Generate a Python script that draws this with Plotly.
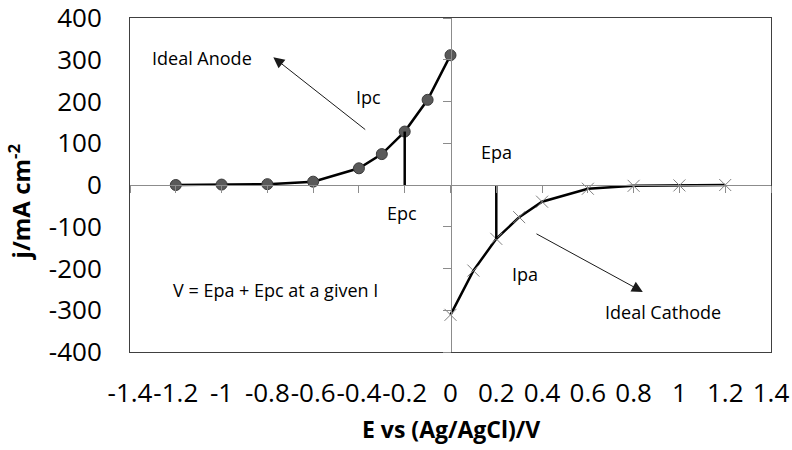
import plotly.graph_objects as go

# Polarisation curves (potential in V vs Ag/AgCl, current density in mA cm^-2)
anode_E = [-1.2, -1.0, -0.8, -0.6, -0.4, -0.3, -0.2, -0.1, 0.0]
anode_j = [0, 1, 2, 8, 40, 74, 128, 204, 311]

cathode_E = [0.0, 0.1, 0.2, 0.3, 0.4, 0.6, 0.8, 1.0, 1.2]
cathode_j = [-311, -205, -129, -77, -40, -9, -2, -1, 0]

# Operating point picked on each curve
epc_idx = 6
epa_idx = 2

x_ticks = [-1.4, -1.2, -1.0, -0.8, -0.6, -0.4, -0.2, 0, 0.2, 0.4, 0.6, 0.8, 1.0, 1.2, 1.4]
x_tick_text = ["-1.4", "-1.2", "-1", "-0.8", "-0.6", "-0.4", "-0.2", "0",
               "0.2", "0.4", "0.6", "0.8", "1", "1.2", "1.4"]
y_ticks = [-400, -300, -200, -100, 0, 100, 200, 300, 400]
y_tick_text = ["-400", "-300", "-200", "-100", "0", "100", "200", "300", "400"]

FONT = "Open Sans"
x_range = [-1.4, 1.4]
y_range = [-400, 400]

fig = go.Figure()

fig.add_trace(go.Scatter(
    x=anode_E, y=anode_j, mode="lines+markers",
    line=dict(color="black", width=2.5),
    marker=dict(symbol="circle", size=11, color="#595959",
                line=dict(color="#3a3a3a", width=1)),
    hoverinfo="skip", showlegend=False,
))
fig.add_trace(go.Scatter(
    x=cathode_E, y=cathode_j, mode="lines+markers",
    line=dict(color="black", width=2.5),
    marker=dict(symbol="x-thin", size=12, color="#808080",
                line=dict(color="#808080", width=1)),
    hoverinfo="skip", showlegend=False,
))

# Drop lines from the chosen points to the current-zero axis
fig.add_trace(go.Scatter(
    x=[anode_E[epc_idx], anode_E[epc_idx]], y=[0, anode_j[epc_idx]],
    mode="lines", line=dict(color="black", width=2.5),
    hoverinfo="skip", showlegend=False,
))
fig.add_trace(go.Scatter(
    x=[cathode_E[epa_idx], cathode_E[epa_idx]], y=[0, cathode_j[epa_idx]],
    mode="lines", line=dict(color="black", width=2.5),
    hoverinfo="skip", showlegend=False,
))

# Carrier trace for the crossing axes through the origin
fig.add_trace(go.Scatter(
    x=[None], y=[None], xaxis="x2", yaxis="y2",
    hoverinfo="skip", showlegend=False,
))

tick_font = dict(family=FONT, size=26, color="black")
label_font = dict(family=FONT, size=18, color="black")

fig.update_layout(
    width=792, height=450,
    margin=dict(l=130, r=21, t=18, b=98),
    paper_bgcolor="white", plot_bgcolor="white",
    xaxis=dict(
        range=x_range, tickvals=x_ticks, ticktext=x_tick_text,
        tickfont=tick_font, tickangle=0, ticks="outside", ticklen=18,
        tickcolor="rgba(0,0,0,0)", showgrid=False, zeroline=False,
        showline=True, mirror=True, linecolor="#404040", linewidth=1,
        automargin=False, ticklabeloverflow="allow",
    ),
    yaxis=dict(
        range=y_range, tickvals=y_ticks, ticktext=y_tick_text,
        tickfont=tick_font, tickangle=0, ticks="outside", ticklen=22,
        tickcolor="rgba(0,0,0,0)", showgrid=False, zeroline=False,
        showline=True, mirror=True, linecolor="#404040", linewidth=1,
        automargin=False, ticklabeloverflow="allow",
    ),
    xaxis2=dict(
        range=x_range, tickvals=x_ticks, showticklabels=False,
        overlaying="x", anchor="free", position=0.5, side="bottom",
        ticks="outside", ticklen=7, tickcolor="#8c8c8c", tickwidth=1,
        showline=True, linecolor="#8c8c8c", linewidth=1,
        showgrid=False, zeroline=False,
    ),
    yaxis2=dict(
        range=y_range, tickvals=y_ticks, showticklabels=False,
        overlaying="y", anchor="free", position=0.5, side="left",
        ticks="outside", ticklen=8, tickcolor="#8c8c8c", tickwidth=1,
        showline=True, linecolor="#8c8c8c", linewidth=1,
        showgrid=False, zeroline=False,
    ),
)

annotations = [
    # axis titles
    dict(text="<b>E vs (Ag/AgCl)/V</b>", xref="paper", yref="paper",
         x=0.5, y=-0.23, xanchor="center", yanchor="middle",
         showarrow=False, font=dict(family=FONT, size=23, color="black")),
    dict(text="<b>j/mA cm<sup>-2</sup></b>", xref="paper", yref="paper",
         x=-0.172, y=0.45, xanchor="center", yanchor="middle", textangle=-90,
         showarrow=False, font=dict(family=FONT, size=24, color="black")),
    # curve labels
    dict(text="Ideal Anode", x=-1.085, y=304, showarrow=False, font=label_font),
    dict(text="Ipc", x=-0.36, y=211, showarrow=False, font=label_font),
    dict(text="Epc", x=-0.213, y=-67, showarrow=False, font=label_font),
    dict(text="Epa", x=0.203, y=79, showarrow=False, font=label_font),
    dict(text="Ipa", x=0.325, y=-213, showarrow=False, font=label_font),
    dict(text="Ideal Cathode", x=0.928, y=-303, showarrow=False, font=label_font),
    dict(text="V = Epa + Epc at a given I", x=-0.766, y=-251,
         showarrow=False, font=label_font),
    # direction arrows
    dict(text="", x=-0.774, y=306, ax=-0.366, ay=130, axref="x", ayref="y",
         showarrow=True, arrowhead=2, arrowsize=2.2, arrowwidth=1,
         arrowcolor="#1a1a1a"),
    dict(text="", x=0.84, y=-256, ax=0.369, ay=-115, axref="x", ayref="y",
         showarrow=True, arrowhead=2, arrowsize=2.2, arrowwidth=1,
         arrowcolor="#1a1a1a"),
]
fig.update_layout(annotations=annotations)

fig.write_html("out.html")
